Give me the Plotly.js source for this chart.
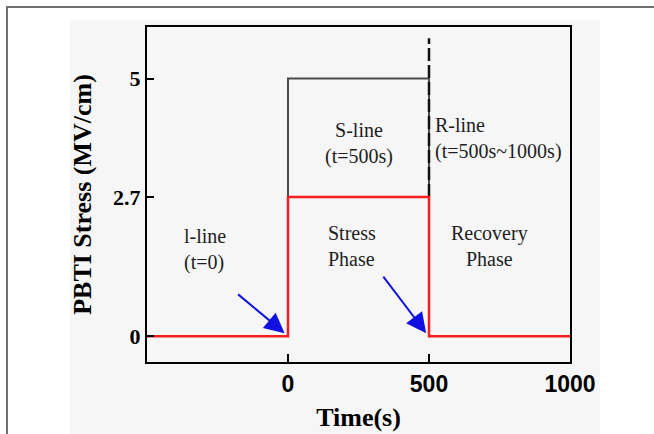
<!DOCTYPE html>
<html>
<head>
<meta charset="utf-8">
<script src="https://cdn.plot.ly/plotly-3.0.1.min.js"></script>
<style>
  html, body { margin: 0; padding: 0; background: #ffffff; }
  #wrap { position: relative; width: 654px; height: 434px; overflow: hidden; }
  #bg { position: absolute; left: 70px; top: 20px; width: 530px; height: 414px; background: #f6f6f6; }
  #frame { position: absolute; left: 6px; top: 6px; width: 660px; height: 440px;
           border-top: 2px solid #707070; border-left: 2px solid #707070; }
  #chart { position: absolute; left: 0; top: 0; width: 654px; height: 434px; }
</style>
</head>
<body>
<div id="wrap">
  <div id="bg"></div>
  <div id="frame"></div>
  <div id="chart"></div>
</div>
<script>
// ---- data ----
const redTime = [-500, 0, 0, 500, 500, 1000];
const redStress = [0, 0, 2.7, 2.7, 0, 0];
const grayTime = [0, 0, 500, 500];
const grayStress = [0, 5, 5, 2.7];
const dashTime = [500, 500];
const dashStress = [2.7, 5.78];
const xTickVals = [0, 500, 1000];
const xTickText = ['0', '500', '1000'];
const yTickVals = [0, 2.7, 5];
const yTickText = ['0', '2.7', '5'];
const labelTexts = ['l-line<br>(t=0)', 'S-line<br>(t=500s)', 'R-line<br>(t=500s~1000s)',
                    'Stress<br>Phase', 'Recovery<br>Phase'];
const xTitle = 'Time(s)';
const yTitle = 'PBTI Stress (MV/cm)';

const traces = [
  { x: grayTime, y: grayStress, mode: 'lines', line: { color: '#4a4a4a', width: 2 }, hoverinfo: 'skip' },
  { x: dashTime, y: dashStress, mode: 'lines', line: { color: '#111111', width: 2.5, dash: '13px,4px' }, hoverinfo: 'skip' },
  { x: redTime, y: redStress, mode: 'lines', line: { color: '#f41e1e', width: 2.5 }, hoverinfo: 'skip' }
];

const txtFont = { family: 'Liberation Serif, Times New Roman, serif', size: 20, color: '#1e1e1e' };

const annotations = [
  { x: -294, y: 1.69, text: labelTexts[0], showarrow: false, font: txtFont, align: 'left' },
  { x: 252, y: 3.73, text: labelTexts[1], showarrow: false, font: txtFont, align: 'center' },
  { x: 514, y: 3.83, text: labelTexts[2], showarrow: false, font: txtFont, align: 'left', xanchor: 'left' },
  { x: 227, y: 1.76, text: labelTexts[3], showarrow: false, font: txtFont, align: 'left' },
  { x: 716, y: 1.76, text: labelTexts[4], showarrow: false, font: txtFont, align: 'center' },
  { x: -12, y: 0.06, text: '', showarrow: true, arrowhead: 2, arrowsize: 2, arrowwidth: 2,
    arrowcolor: '#1010e0', ax: -48, ay: -40 },
  { x: 490, y: 0.06, text: '', showarrow: true, arrowhead: 2, arrowsize: 2, arrowwidth: 2,
    arrowcolor: '#1010e0', ax: -44, ay: -58 }
];

const layout = {
  width: 654, height: 434, autosize: false,
  margin: { l: 147, r: 84, t: 27, b: 72, pad: 0 },
  paper_bgcolor: 'rgba(0,0,0,0)',
  plot_bgcolor: 'rgba(0,0,0,0)',
  showlegend: false,
  xaxis: {
    range: [-500, 1000], tickmode: 'array', tickvals: xTickVals, ticktext: xTickText,
    ticks: 'inside', ticklen: 8, tickwidth: 2, tickcolor: '#000',
    showline: true, linewidth: 2, linecolor: '#000', mirror: true,
    showgrid: false, zeroline: false,
    tickfont: { family: 'Liberation Sans, Arial, sans-serif', size: 23, color: '#000', weight: 'bold' },
    title: { text: xTitle, font: { family: 'Liberation Serif, Times New Roman, serif', size: 26, color: '#000', weight: 'bold' }, standoff: 12 }
  },
  yaxis: {
    range: [-0.5, 6], tickmode: 'array', tickvals: yTickVals, ticktext: yTickText,
    ticks: 'inside', ticklen: 7, tickwidth: 2, tickcolor: '#000',
    showline: true, linewidth: 2, linecolor: '#000', mirror: true,
    showgrid: false, zeroline: false,
    tickfont: { family: 'Liberation Serif, Times New Roman, serif', size: 22, color: '#000', weight: 'bold' },
    title: { text: yTitle, font: { family: 'Liberation Serif, Times New Roman, serif', size: 26, color: '#000', weight: 'bold' }, standoff: 14 }
  },
  annotations: annotations
};

Plotly.newPlot('chart', traces, layout, { displayModeBar: false, staticPlot: true });
</script>
</body>
</html>
